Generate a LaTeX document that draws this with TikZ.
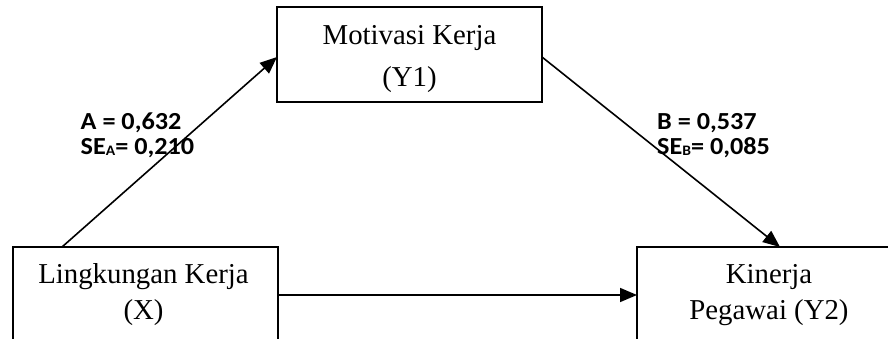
\documentclass[tikz,border=0pt]{standalone}
\usepackage{fontspec}
\setmainfont{Liberation Serif}
\newfontfamily\lblfont[FakeStretch=1.07]{Carlito}
\usetikzlibrary{arrows.meta}
\newcommand{\mysub}[1]{\raisebox{-1pt}{\fontsize{14.5}{14.5}\selectfont #1}}
\tikzset{
  box/.style={draw, line width=1.6pt, minimum width=265pt, inner sep=0pt, outer sep=0pt},
  txt/.style={anchor=base, inner sep=0pt, font=\fontsize{28.8}{30}\selectfont},
  lbl/.style={anchor=base west, inner sep=0pt, font=\lblfont\bfseries\fontsize{24.5}{25}\selectfont},
  arr/.style={line width=1.6pt, -{Triangle[length=17pt,width=14pt]}}
}
\begin{document}
\begin{tikzpicture}[x=1pt,y=-1pt]
\useasboundingbox (0,0) rectangle (888,339);
\clip (0,0) rectangle (888,339);
\node[box, minimum height=95pt] (Y1) at (409.5,54.5) {};
\node[box, minimum height=113pt] (X) at (145.5,303.5) {};
\node[box, minimum height=113pt] (Y2) at (769.5,303.5) {};
\node[txt] (t1) at (409.5,45) {Motivasi Kerja};
\node[txt] (t2) at (409.5,87) {(Y1)};
\node[txt] (t3) at (143.5,283) {Lingkungan Kerja};
\node[txt] (t4) at (143.5,319) {(X)};
\node[txt] (t5) at (769,283) {Kinerja};
\node[txt] (t6) at (769,319) {Pegawai (Y2)};
\draw[arr] ([xshift=49pt]X.north west) -- ([yshift=-2.5pt]Y1.west);
\draw[arr] ([yshift=-2.5pt]Y1.east) -- ([xshift=10.5pt]Y2.north);
\draw[arr] ([yshift=-48pt]X.north east) -- ([yshift=-48pt]Y2.north west);
\node[lbl] (la1) at (80.5,129.5) {A = 0,632};
\node[lbl] (la2) at (80.5,155) {SE\mysub{A}= 0,210};
\node[lbl] (lb1) at (657,129.5) {B = 0,537};
\node[lbl] (lb2) at (657,155) {SE\mysub{B}= 0,085};
\end{tikzpicture}
\end{document}
